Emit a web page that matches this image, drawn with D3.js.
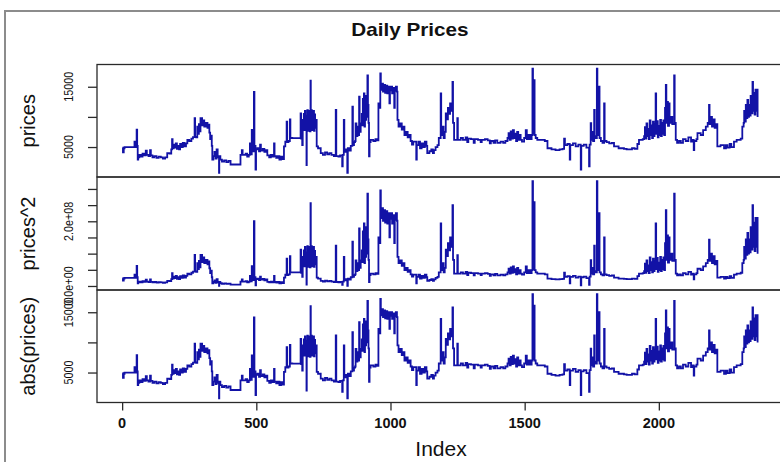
<!DOCTYPE html>
<html>
<head>
<meta charset="utf-8">
<script src="https://cdn.jsdelivr.net/npm/d3@7"></script>
<style>
  body { margin: 0; background: #fff; }
  svg { display: block; }
  text { font-family: "Liberation Sans", Arial, sans-serif; fill: #111; }
</style>
</head>
<body>
<svg id="chart" width="780" height="462"></svg>
<script>
// Daily price observations (trading-day index, price)
const day = [
  1,3,6,9,46,52,54,56,58,60,64,70,76,82,88,92,98,104,107,113,120,128,136,144,152,160,168,176,183,186,188,192,196,200,204,208,212,216,220,226,232,238,243,250,258,264,270,272,276,280,283,286,289,292,298,302,306,312,318,322,325,328,331,334,336,340,344,348,352,356,361,362,366,372,380,388,396,404,441,446,449,460,466,472,476,478,483,485,491,493,497,499,504,510,514,517,524,530,536,541,548,554,560,566,568,574,580,586,592,598,603,608,613,615,620,625,627,634,665,667,671,
  673,675,677,679,681,683,685,687,688,690,692,694,696,698,700,702,703,705,707,709,711,713,715,717,719,721,
  725,730,740,748,756,764,772,780,789,796,798,806,812,820,822,826,828,834,839,841,846,852,858,860,864,868,870,873,877,880,883,885,889,
  893,895,897,899,901,903,905,907,909,911,914,916,918,920,922,926,936,944,950,955,957,962,964,968,972,976,980,984,988,992,996,998,1002,1006,1010,1014,1016,1020,1024,1026,1030,1036,1042,1048,1052,1058,1064,1070,1075,1080,1085,1096,1098,1104,1110,1116,1122,1128,1134,1137,1145,1152,1158,1162,1168,1175,1180,1187,1189,1193,1198,1202,1206,1210,1214,1218,1222,1226,1231,1233,1237,1249,1251,1262,1270,1280,1286,1290,1300,1310,1314,1326,1336,1340,1352,1362,1370,1374,1384,1390,1398,1410,1420,1428,1436,
  1440,1444,1448,1452,1456,1460,1464,1468,1472,1476,1480,1485,1490,1498,1504,1508,1514,1520,1526,1529,1531,1535,1537,1541,1547,1560,1575,1585,1600,1615,1630,1641,1647,1650,1659,1668,1670,1680,1690,1700,1709,1711,1720,1730,1740,1742,1746,1748,1752,1755,1759,1761,1765,1769,1771,1777,1779,1784,1790,1796,1798,1805,1815,1825,1833,1850,1870,1880,1900,1910,1920,1926,1940,1945,
  1948,1951,1954,1957,1960,1963,1966,1969,1972,1975,1978,1981,1984,1988,1990,1993,1996,1999,2002,2005,2008,2011,2014,2017,2020,2023,2026,2028,2032,2034,2038,2040,2045,2050,2057,2059,2063,2068,2075,2082,2090,2100,2110,2120,2125,2130,2132,2140,2144,2156,2165,2175,2182,2187,2189,2194,2198,2204,2208,2212,2218,2230,2243,2250,2256,2264,2270,2280,2290,2305,2311,2316,
  2318,2321,2324,2327,2330,2333,2336,2339,2342,2345,2349,2351,2354,2357,2360,2363,2366,2368
];
const price = [
  4900,4100,4800,5000,5900,5000,7900,5200,2900,3300,3700,3400,3900,3600,4400,3700,3500,4500,3600,3300,3500,3200,3400,3300,3100,3300,4000,3900,4600,6300,4800,5400,4900,5600,4700,5200,4600,5500,5000,5700,5100,5600,6200,6000,6400,6650,9800,6700,6600,8400,7200,8800,7600,9800,8600,9400,8400,9000,8200,8700,7400,6300,6900,5200,2900,3500,4200,3100,4600,3300,720,3500,2900,2600,2800,2500,2700,2100,3700,4500,3700,3900,3400,3700,5600,3800,7850,4300,14150,5200,1270,4600,4800,4300,5400,4400,4700,4200,4500,3600,3300,3700,3400,5600,3500,3200,3500,2900,3400,3000,5100,5900,9200,5800,6000,9600,6500,6480,10600,6400,5300,
  9500,8000,10500,7800,11000,8200,10200,2000,9000,11100,7700,10800,8000,11000,7600,16000,9000,11100,7800,10600,8100,11000,7700,10400,8200,9500,
  5100,4800,4000,3700,4100,3800,4000,3700,3500,11150,3500,3400,3600,1800,3700,9500,4200,4600,720,4800,4400,5200,11700,5300,5800,6000,8900,6800,8400,7000,13350,7500,8900,
  10500,8600,13000,9000,13900,8400,12500,9500,13500,10000,16900,12000,9000,3460,5800,6200,6000,6300,6100,12250,11500,17200,14500,15500,14200,15300,14000,15200,13900,15000,12250,14400,15000,13900,14800,11500,14300,15000,14200,9500,8400,8900,7900,8400,7000,7500,6600,7000,6000,5400,5900,2900,5300,5900,4800,5600,5000,5900,5200,4000,4300,4600,4000,4500,5000,5300,6500,13900,7000,8400,6500,7500,10600,9600,11500,10500,12250,11000,15800,9000,6200,9780,6200,6500,6200,6600,5800,6400,6300,5700,6300,6200,5800,6200,6300,6100,5600,6000,5700,6100,5700,5900,5700,6000,6500,
  7300,6200,7600,6400,7800,6500,7200,6000,7500,6200,7000,6200,5900,6500,7800,6300,7000,6300,7000,18000,7200,16100,7000,6500,6200,6200,6000,4800,4600,4500,4600,4700,6400,5300,5500,2900,5300,5600,5100,5400,1270,5200,5400,4900,1800,5400,8950,6200,7500,6000,11150,6800,6500,18000,7000,15000,6500,6000,5700,12250,6000,5800,5600,5700,5100,4800,4700,4600,4800,4700,5500,6200,6300,6800,
  8300,6400,8900,6800,8000,6300,9400,7000,8600,6500,9200,6800,8800,13900,7200,9300,6600,8500,7000,9500,6800,9000,7200,9400,7000,11500,15300,9000,12500,8500,12250,9000,10000,8800,16900,9000,6200,5700,6000,5700,6300,6000,6600,5900,6200,4500,6000,6300,7300,7000,7800,8400,9000,11970,8800,10000,8400,9600,8200,8800,5100,5300,4800,5300,4900,5500,5000,5900,6200,6400,8400,9000,
  11000,9200,12000,9800,12800,10000,12000,10200,13500,10600,15800,11000,14000,10400,14500,11000,14500,10000
];

// Axis ticks and their printed labels (blank = tick without label)
const xTicks = [0, 500, 1000, 1500, 2000];
const priceTicks = [5000, 10000, 15000];
const priceTickLabels = ["5000", "", "15000"];
const squareTicks = [0, 5e7, 1e8, 1.5e8, 2e8, 2.5e8, 3e8];
const squareTickLabels = ["0.0e+00", "", "", "", "2.0e+08", "", ""];
const panelTitles = ["prices", "prices^2", "abs(prices)"];

const svg = d3.select("#chart");

// Outer figure frame
svg.append("rect")
  .attr("x", 5).attr("y", 11).attr("width", 820).attr("height", 520)
  .attr("fill", "none").attr("stroke", "#8c8c8c").attr("stroke-width", 2);

svg.append("text")
  .attr("transform", "translate(410,36) scale(1.15,1)")
  .attr("text-anchor", "middle")
  .style("font-weight", "bold").style("font-size", "18px")
  .text("Daily Prices");

const points = day.map((d, i) => ({ day: d, v: price[i] }));
const nDays = d3.max(day);
const pad = 0.04 * (nDays - 1);
const x = d3.scaleLinear().domain([1 - pad, nDays + pad]).range([97, 783]);

const panelTop = [64.5, 177, 290];
const panelBottom = [177, 290, 402.5];

const transforms = [v => v, v => v * v, v => Math.abs(v)];
const tickSets = [
  [priceTicks, priceTickLabels],
  [squareTicks, squareTickLabels],
  [priceTicks, priceTickLabels]
];

transforms.forEach((f, k) => {
  const vals = points.map(p => f(p.v));
  const lo = d3.min(vals), hi = d3.max(vals);
  const r = hi - lo;
  const y = d3.scaleLinear()
    .domain([lo - 0.04 * r, hi + 0.04 * r])
    .range([panelBottom[k], panelTop[k]]);

  const g = svg.append("g");

  const line = d3.line()
    .x(p => x(p.day))
    .y(p => y(f(p.v)))
    .curve(d3.curveStepAfter);

  g.append("path")
    .datum(points)
    .attr("d", line)
    .attr("fill", "none")
    .attr("stroke", "#1212a6")
    .attr("stroke-width", 1.8)
    .attr("stroke-linejoin", "miter");

  // Panel box
  g.append("rect")
    .attr("x", 97).attr("y", panelTop[k])
    .attr("width", 686).attr("height", panelBottom[k] - panelTop[k])
    .attr("fill", "none").attr("stroke", "#2a2a2a").attr("stroke-width", 1.3);

  const [ticks, labels] = tickSets[k];
  const axis = d3.axisLeft(y).tickValues(ticks).tickSize(9).tickFormat("");
  const ag = g.append("g").attr("transform", "translate(97,0)").call(axis);
  ag.select(".domain").remove();
  ag.selectAll(".tick line").attr("stroke", "#2a2a2a").attr("stroke-width", 1.3);

  ticks.forEach((t, i) => {
    if (!labels[i]) return;
    g.append("text")
      .attr("transform", `translate(73,${y(t)}) rotate(-90) scale(0.8,1)`)
      .attr("text-anchor", "middle")
      .style("font-size", "13.5px")
      .text(labels[i]);
  });

  g.append("text")
    .attr("transform", `translate(35,${(panelTop[k] + panelBottom[k]) / 2}) rotate(-90)`)
    .attr("text-anchor", "middle")
    .style("font-size", "20px")
    .text(panelTitles[k]);

  if (k === 2) {
    const xa = d3.axisBottom(x).tickValues(xTicks).tickSize(8).tickFormat("");
    const xg = g.append("g").attr("transform", `translate(0,${panelBottom[k]})`).call(xa);
    xg.select(".domain").remove();
    xg.selectAll(".tick line").attr("stroke", "#2a2a2a").attr("stroke-width", 1.3);
    xTicks.forEach(t => {
      g.append("text")
        .attr("x", x(t)).attr("y", 428)
        .attr("text-anchor", "middle")
        .style("font-weight", "bold").style("font-size", "14.5px")
        .text(d3.format("d")(t));
    });
    g.append("text")
      .attr("x", 441).attr("y", 456)
      .attr("text-anchor", "middle")
      .style("font-size", "21px")
      .text("Index");
  }
});
</script>
</body>
</html>
